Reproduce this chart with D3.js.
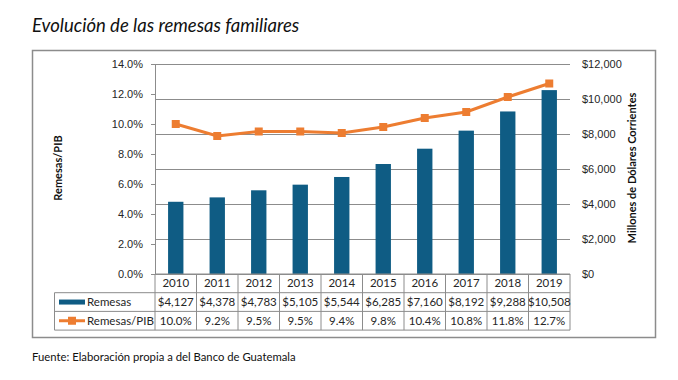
<!DOCTYPE html>
<html>
<head>
<meta charset="utf-8">
<script src="https://cdn.jsdelivr.net/npm/d3@7"></script>
<style>
  body { margin: 0; background: #fff; }
  svg { font-family: Lato, "Open Sans", sans-serif; }
  .tick text { font-size: 11px; fill: #262626; }
</style>
</head>
<body>
<div id="chart"></div>
<script>
const years = ['2010', '2011', '2012', '2013', '2014', '2015', '2016', '2017', '2018', '2019'];
const remesas = [4127, 4378, 4783, 5105, 5544, 6285, 7160, 8192, 9288, 10508];
const remesasPib = [10.0, 9.2, 9.5, 9.5, 9.4, 9.8, 10.4, 10.8, 11.8, 12.7];
const pctTicks = [0, 2, 4, 6, 8, 10, 12, 14];
const usdTicks = [0, 2000, 4000, 6000, 8000, 10000, 12000];

const width = 678;
const height = 380;
const blue = '#0f5c84';
const orange = '#ed7d31';
const grey = '#8c8c8c';

const svg = d3.select('#chart')
	.append('svg')
	.attr('width', width)
	.attr('height', height);

// title and source
svg.append('text')
	.attr('x', 32)
	.attr('y', 32)
	.style('font-size', '18.5px')
	.style('font-style', 'italic')
	.attr('fill', '#111')
	.text('Evolución de las remesas familiares');

svg.append('text')
	.attr('x', 32)
	.attr('y', 361)
	.style('font-size', '11.3px')
	.attr('fill', '#111')
	.text('Fuente: Elaboración propia a del Banco de Guatemala');

// outer frame
svg.append('rect')
	.attr('x', 32.5)
	.attr('y', 50.5)
	.attr('width', 623)
	.attr('height', 287)
	.attr('fill', 'none')
	.attr('stroke', grey)
	.attr('stroke-width', 1.5);

const plotLeft = 155;
const plotRight = 570;
const plotTop = 64;
const plotBottom = 274;

const x = d3.scaleBand().domain(years).range([plotLeft, plotRight]);
const yPct = d3.scaleLinear().domain([0, 14]).range([plotBottom, plotTop]);
const yUsd = d3.scaleLinear().domain([0, 12000]).range([plotBottom, plotTop]);

// gridlines from the dollar axis
svg.append('g')
	.attr('transform', `translate(${plotLeft},0)`)
	.call(d3.axisLeft(yUsd).tickValues(usdTicks).tickSize(-(plotRight - plotLeft)).tickFormat(''))
	.call((g) => g.select('.domain').remove())
	.call((g) => g.selectAll('line').attr('stroke', grey));

// left axis
svg.append('g')
	.attr('transform', `translate(${plotLeft},0)`)
	.call(d3.axisLeft(yPct).tickValues(pctTicks).tickSize(4).tickPadding(8).tickFormat((d) => d.toFixed(1) + '%'))
	.call((g) => g.select('.domain').attr('stroke', grey))
	.call((g) => g.selectAll('line').attr('stroke', grey));

// right axis
svg.append('g')
	.attr('transform', `translate(${plotRight},0)`)
	.call(d3.axisRight(yUsd).tickValues(usdTicks).tickSize(0).tickPadding(12).tickFormat((d) => '$' + d3.format(',')(d)))
	.call((g) => g.select('.domain').remove());

// axis titles
svg.append('text')
	.attr('transform', 'translate(62,168) rotate(-90)')
	.attr('text-anchor', 'middle')
	.style('font-size', '11px')
	.style('font-weight', 'bold')
	.attr('fill', '#111')
	.text('Remesas/PIB');

svg.append('text')
	.attr('transform', 'translate(636,168) rotate(-90)')
	.attr('text-anchor', 'middle')
	.style('font-size', '11px')
	.style('font-weight', 'bold')
	.attr('fill', '#111')
	.text('Millones de Dólares Corrientes');

// bars
const barW = x.bandwidth() * 0.37;
svg.selectAll('.bar')
	.data(remesas)
	.join('rect')
	.attr('class', 'bar')
	.attr('x', (d, i) => x(years[i]) + (x.bandwidth() - barW) / 2)
	.attr('y', (d) => yUsd(d))
	.attr('width', barW)
	.attr('height', (d) => plotBottom - yUsd(d))
	.attr('fill', blue);

// line + markers
const line = d3.line()
	.x((d, i) => x(years[i]) + x.bandwidth() / 2)
	.y((d) => yPct(d));

svg.append('path')
	.datum(remesasPib)
	.attr('d', line)
	.attr('fill', 'none')
	.attr('stroke', orange)
	.attr('stroke-width', 3);

svg.selectAll('.marker')
	.data(remesasPib)
	.join('rect')
	.attr('class', 'marker')
	.attr('x', (d, i) => x(years[i]) + x.bandwidth() / 2 - 4)
	.attr('y', (d) => yPct(d) - 4)
	.attr('width', 8)
	.attr('height', 8)
	.attr('fill', orange);

// data table
const rowH = 18.7;
const tableLeft = 54.5;
const rows = [plotBottom, plotBottom + rowH, plotBottom + 2 * rowH, plotBottom + 3 * rowH];
const table = svg.append('g').attr('stroke', grey).attr('stroke-width', 1);

table.append('line')
	.attr('x1', plotLeft).attr('x2', plotRight)
	.attr('y1', rows[0]).attr('y2', rows[0]);
rows.slice(1).forEach((ry) => {
	table.append('line')
		.attr('x1', tableLeft).attr('x2', plotRight)
		.attr('y1', ry).attr('y2', ry);
});
table.append('line')
	.attr('x1', tableLeft).attr('x2', tableLeft)
	.attr('y1', rows[1]).attr('y2', rows[3]);
years.concat(['end']).forEach((yr, i) => {
	const vx = i < years.length ? x(yr) : plotRight;
	table.append('line')
		.attr('x1', vx).attr('x2', vx)
		.attr('y1', rows[0]).attr('y2', rows[3]);
});

const cellText = (values, row, fmt) => {
	svg.selectAll('.cell-' + row)
		.data(values)
		.join('text')
		.attr('class', 'cell-' + row)
		.attr('x', (d, i) => x(years[i]) + x.bandwidth() / 2)
		.attr('y', rows[row] + rowH / 2 + 4)
		.attr('text-anchor', 'middle')
		.style('font-size', '11.5px')
		.attr('fill', '#262626')
		.text(fmt);
};
cellText(years, 0, (d) => d);
cellText(remesas, 1, (d) => '$' + d3.format(',')(d));
cellText(remesasPib, 2, (d) => d.toFixed(1) + '%');

// legend keys in the table
svg.append('rect')
	.attr('x', 59)
	.attr('y', rows[1] + rowH / 2 - 2.5)
	.attr('width', 26)
	.attr('height', 5)
	.attr('fill', blue);
svg.append('line')
	.attr('x1', 59).attr('x2', 85)
	.attr('y1', rows[2] + rowH / 2).attr('y2', rows[2] + rowH / 2)
	.attr('stroke', orange)
	.attr('stroke-width', 3);
svg.append('rect')
	.attr('x', 68)
	.attr('y', rows[2] + rowH / 2 - 4)
	.attr('width', 8)
	.attr('height', 8)
	.attr('fill', orange);

[['Remesas', 1], ['Remesas/PIB', 2]].forEach(([label, row]) => {
	svg.append('text')
		.attr('x', 87)
		.attr('y', rows[row] + rowH / 2 + 4)
		.style('font-size', '11.5px')
		.attr('fill', '#262626')
		.text(label);
});
</script>
</body>
</html>
